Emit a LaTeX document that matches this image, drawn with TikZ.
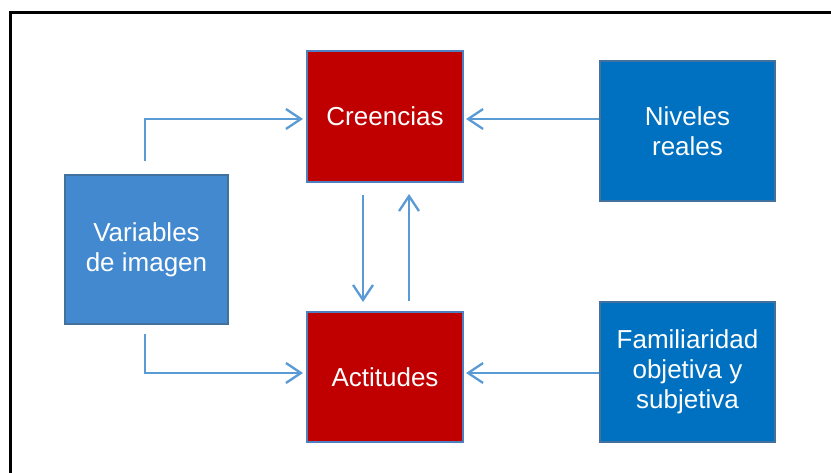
\documentclass[tikz,border=0pt]{standalone}
\usepackage{fontspec}
\setmainfont{Liberation Sans}
\usetikzlibrary{arrows.meta}
\definecolor{redfill}{HTML}{C00000}
\definecolor{redborder}{HTML}{4F7FBF}
\definecolor{midblue}{HTML}{4389D0}
\definecolor{deepblue}{HTML}{0070C0}
\definecolor{blueborder}{HTML}{41719C}
\definecolor{arrowblue}{HTML}{5B9BD5}
\tikzset{
  box/.style={rectangle, line width=2pt, text=white, align=center,
    font=\fontsize{26}{30}\selectfont, inner sep=0pt},
  redbox/.style={box, fill=redfill, draw=redborder},
  varbox/.style={box, fill=midblue, draw=blueborder},
  deepbox/.style={box, fill=deepblue, draw=blueborder},
  arr/.style={draw=arrowblue, line width=2.3pt,
    -{Straight Barb[length=15pt, width=20pt, line width=2.3pt]}}
}
\begin{document}
\begin{tikzpicture}[x=1pt, y=-1pt]
  \useasboundingbox (0,0) rectangle (831,473);
  % outer frame, running past the right and bottom edges
  \begin{scope}
    \clip (0,0) rectangle (831,473);
    \draw[line width=2.8pt, black] (10.5,12.8) rectangle (900,560);
  \end{scope}

  \node[redbox, minimum width=156pt, minimum height=131pt] (cre) at (385,116.5) {Creencias};
  \node[redbox, minimum width=156pt, minimum height=130pt] (act) at (385,377) {Actitudes};
  \node[varbox, minimum width=163pt, minimum height=149pt] (var) at (146.5,249.5) {Variables\\de imagen};
  \node[deepbox, minimum width=175pt, minimum height=140pt] (niv) at (687.5,131) {Niveles\\reales};
  \node[deepbox, minimum width=175pt, minimum height=140pt] (fam) at (687.5,372) {Familiaridad\\objetiva y\\subjetiva};

  % heights of the horizontal connectors
  \coordinate (toprow) at (0,119);
  \coordinate (botrow) at (0,373);

  % connectors
  \draw[arr] ([xshift=-1.5pt, yshift=13pt]var.north) |- ([xshift=-3pt]cre.west |- toprow);
  \draw[arr] ([xshift=-1.5pt, yshift=-9pt]var.south) |- ([xshift=-3pt]act.west |- botrow);
  \draw[arr] (niv.west |- toprow) -- ([xshift=2pt]cre.east |- toprow);
  \draw[arr] (fam.west |- botrow) -- ([xshift=2pt]act.east |- botrow);
  \draw[arr] ([xshift=-22pt, yshift=-12pt]cre.south) -- ([xshift=-22pt, yshift=9pt]act.north);
  \draw[arr] ([xshift=24pt, yshift=10pt]act.north) -- ([xshift=24pt, yshift=-11pt]cre.south);
\end{tikzpicture}
\end{document}
